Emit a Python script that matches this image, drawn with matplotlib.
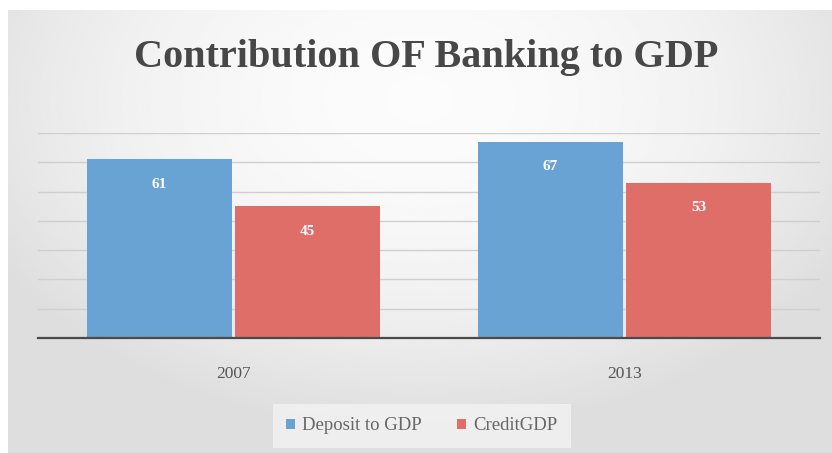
import numpy as np
import matplotlib.pyplot as plt

years = ['2007', '2013']
deposit_to_gdp = [61, 67]
credit_gdp = [45, 53]
series_names = ['Deposit to GDP', 'CreditGDP']
series_colors = ['#69a3d4', '#df6d68']

fig = plt.figure(figsize=(8.32, 4.53), dpi=100)
fig.patch.set_facecolor('white')

# soft radial grey background behind the chart
bg = fig.add_axes([8 / 832, 0, 824 / 832, 443 / 453], zorder=0)
yy, xx = np.mgrid[-1:1:200j, -1:1:400j]
r = np.sqrt((xx / 1.1) ** 2 + ((yy + 0.6) / 1.4) ** 2)
shade = np.clip(0.985 - 0.1 * r ** 2, 0.87, 0.985)
bg.imshow(shade, cmap='gray', vmin=0, vmax=1, aspect='auto', extent=[0, 1, 0, 1])
bg.axis('off')

ax = fig.add_axes([38 / 832, (453 - 338) / 453, 782 / 832, 205 / 453], zorder=1)
ax.patch.set_alpha(0)

x = np.arange(len(years))
w = 0.372
b1 = ax.bar(x - w / 2 - 0.003, deposit_to_gdp, w, color=series_colors[0],
            label=series_names[0], zorder=3)
b2 = ax.bar(x + w / 2 + 0.003, credit_gdp, w, color=series_colors[1],
            label=series_names[1], zorder=3)

for bars, vals in [(b1, deposit_to_gdp), (b2, credit_gdp)]:
    for bar, v in zip(bars, vals):
        ax.text(bar.get_x() + bar.get_width() / 2, v - 8.5, str(v),
                ha='center', va='center', color='white', fontsize=11,
                fontweight='bold', family='Liberation Serif', zorder=4)

ax.set_xlim(-0.5, 1.5)
ax.set_ylim(0, 70)
ax.set_yticks(np.arange(10, 80, 10))
ax.yaxis.grid(True, color='#cfcfcf', linewidth=1, zorder=1)
ax.tick_params(axis='y', length=0, labelleft=False)
ax.tick_params(axis='x', length=0, pad=20, colors='#555555')
ax.set_xticks(x)
ax.set_xticklabels(years, family='Liberation Serif', fontsize=12.5)
for s in ['top', 'right', 'left']:
    ax.spines[s].set_visible(False)
ax.spines['bottom'].set_color('#4a4a4a')
ax.spines['bottom'].set_linewidth(1.6)
ax.spines['bottom'].set_zorder(5)

fig.text(0.512, 1 - 67 / 453, 'Contribution OF Banking to GDP', ha='center',
         va='baseline', fontsize=29, fontweight='bold', color='#474747',
         family='Liberation Serif')

leg = fig.legend(handles=[b1, b2], loc='center', bbox_to_anchor=(0.507, 1 - 426 / 453),
                 ncol=2, frameon=True, handlelength=0.45,
                 handleheight=0.45, handletextpad=0.4, columnspacing=1.9,
                 borderpad=0.35, borderaxespad=0,
                 prop={'family': 'Liberation Serif', 'size': 13.5})
leg.get_frame().set_facecolor('#f3f3f3')
leg.get_frame().set_edgecolor('none')
leg.get_frame().set_boxstyle('square', pad=0.35)
for t in leg.get_texts():
    t.set_color('#666666')

fig.savefig('out.png', dpi=100)
